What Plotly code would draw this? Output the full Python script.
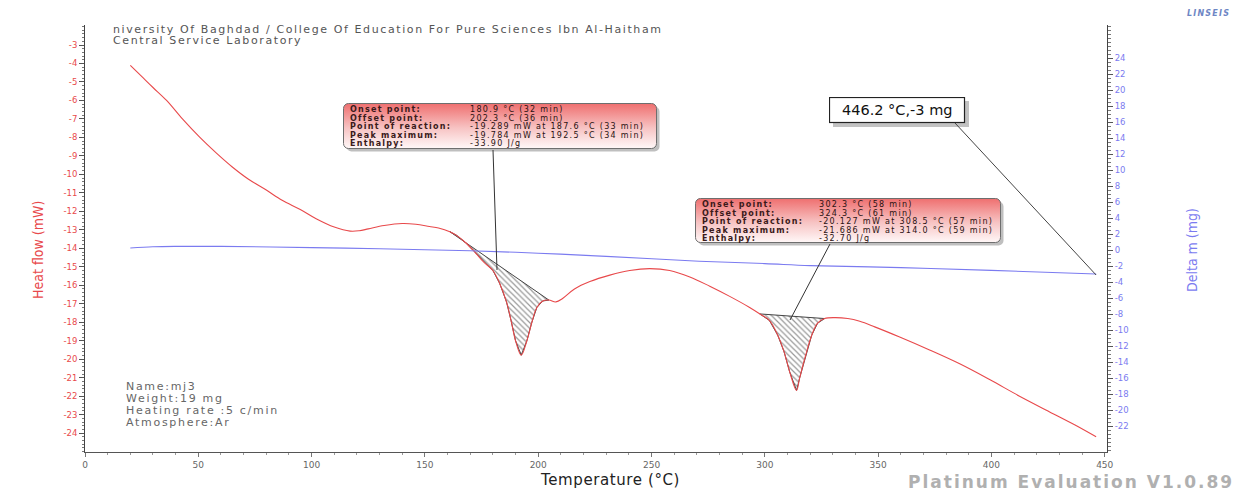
import base64
import plotly.graph_objects as go

# ---- measured data -------------------------------------------------------
temp_hf = [20, 25, 30, 36, 43, 50.7, 58, 65, 72, 80, 87, 95, 102, 110, 117, 121,
           125, 132, 140, 146, 152, 156, 161, 164, 168, 172, 176, 180, 183, 186,
           188, 190, 192.5, 195, 197.2, 199.4, 202, 204.7, 207.8, 210.9, 216,
           222.8, 231.6, 240.4, 249.2, 258, 266.9, 275.7, 284.5, 293.3, 297.8,
           302, 305.7, 308.5, 311, 314, 315.4, 318, 320.7, 323.3, 326.4, 330.8,
           336.6, 341.9, 348.5, 359.5, 372.7, 386, 399.2, 412.4, 425.7, 436.7, 446.2]
heat_flow = [-4.1, -4.7, -5.3, -6.0, -7.0, -8.0, -8.85, -9.6, -10.25, -10.85, -11.4,
             -11.9, -12.4, -12.85, -13.07, -13.05, -12.95, -12.77, -12.66, -12.7,
             -12.82, -12.9, -13.1, -13.3, -13.7, -14.2, -14.75, -15.2, -15.9, -16.9,
             -17.9, -19.0, -19.784, -19.0, -18.0, -17.2, -16.85, -16.8, -16.9, -16.7,
             -16.2, -15.8, -15.45, -15.2, -15.1, -15.2, -15.55, -16.05, -16.6, -17.2,
             -17.55, -17.9, -18.7, -19.6, -20.7, -21.686, -21.0, -19.8, -18.7, -18.05,
             -17.8, -17.75, -17.8, -17.95, -18.25, -18.8, -19.5, -20.25, -21.1, -22.0,
             -22.85, -23.55, -24.2]

temp_dm = [20, 30, 40, 60, 100, 130, 170, 200, 230, 271, 300, 320, 360, 400, 446.2]
delta_m = [0.25, 0.4, 0.45, 0.45, 0.3, 0.15, -0.1, -0.4, -0.8, -1.4, -1.7, -1.95, -2.2, -2.55, -3.0]

# integration limits of the two evaluated peaks (°C)
peak_limits = [(161, 204.7), (297.8, 326.4)]

peak1_lines = [("Onset point:", "180.9 °C (32 min)"),
               ("Offset point:", "202.3 °C (36 min)"),
               ("Point of reaction:", "-19.289 mW at 187.6 °C (33 min)"),
               ("Peak maximum:", "-19.784 mW at 192.5 °C (34 min)"),
               ("Enthalpy:", "-33.90 J/g")]
peak2_lines = [("Onset point:", "302.3 °C (58 min)"),
               ("Offset point:", "324.3 °C (61 min)"),
               ("Point of reaction:", "-20.127 mW at 308.5 °C (57 min)"),
               ("Peak maximum:", "-21.686 mW at 314.0 °C (59 min)"),
               ("Enthalpy:", "-32.70 J/g")]

hf_ticks = list(range(-24, -2))
dm_ticks = list(range(-22, 25, 2))
t_ticks = list(range(0, 451, 50))

header = ["niversity Of Baghdad / College Of Education For Pure Sciences Ibn Al-Haitham",
          "Central Service Laboratory"]
sample_info = ["Name:mj3", "Weight:19 mg", "Heating rate :5 c/min", "Atmosphere:Ar"]
end_label = "446.2 °C,-3 mg"

# ---- layout geometry (pixels) --------------------------------------------
W, H = 1239, 494
L, R, T, B = 85, 132, 25, 42
PW, PH = W - L - R, H - T - B
FONT = "DejaVu Sans, Verdana, sans-serif"
RED = "#e8494b"
BLUE = "#7b7bf0"


def px(x):
    return (x - L) / PW


def py(y):
    return (H - B - y) / PH


def spaced(text, spacing):
    return f'<span style="letter-spacing:{spacing}px">{text}</span>'


def svg_uri(svg):
    return "data:image/svg+xml;base64," + base64.b64encode(svg.encode()).decode()


def callout_svg(w, h):
    return f'''<svg xmlns="http://www.w3.org/2000/svg" width="{w}" height="{h}" viewBox="0 0 {w} {h}">
<defs><linearGradient id="g" x1="0" y1="0" x2="0" y2="1">
<stop offset="0" stop-color="#ef6f6f"/><stop offset="0.55" stop-color="#f7c4c4"/><stop offset="1" stop-color="#fff8f8"/>
</linearGradient></defs>
<rect x="3.5" y="3.5" width="{w-5}" height="{h-5}" rx="5" fill="#8a8a8a" opacity="0.55"/>
<rect x="0.5" y="0.5" width="{w-5}" height="{h-5}" rx="5" fill="url(#g)" stroke="#6e6e6e" stroke-width="1"/>
</svg>'''


def plain_svg(w, h):
    return f'''<svg xmlns="http://www.w3.org/2000/svg" width="{w}" height="{h}" viewBox="0 0 {w} {h}">
<rect x="4" y="4" width="{w-4}" height="{h-4}" fill="#9a9a9a" opacity="0.6"/>
<rect x="0.5" y="0.5" width="{w-5}" height="{h-5}" fill="white" stroke="#222" stroke-width="1.2"/>
</svg>'''


fig = go.Figure()

# hatched peak areas bounded by the straight baseline between the limits
for lo, hi in peak_limits:
    seg = [(t, v) for t, v in zip(temp_hf, heat_flow) if lo <= t <= hi]
    fig.add_trace(go.Scatter(
        x=[p[0] for p in seg] + [seg[0][0]],
        y=[p[1] for p in seg] + [seg[0][1]],
        mode="lines", fill="toself", fillcolor="rgba(0,0,0,0)",
        fillpattern=dict(shape="\\", fgcolor="#333", bgcolor="rgba(255,255,255,0)",
                         size=4, solidity=0.3),
        line=dict(color="#444", width=1), hoverinfo="skip", showlegend=False))

fig.add_trace(go.Scatter(x=temp_hf, y=heat_flow, mode="lines", line=dict(color=RED, width=1.1),
                         line_shape="spline", showlegend=False))
fig.add_trace(go.Scatter(x=temp_dm, y=delta_m, mode="lines", line=dict(color=BLUE, width=1.1),
                         line_shape="spline", yaxis="y2", showlegend=False))

ann = []
images = []
shapes = []

# evaluation callouts
for lines, (x0, y0, w, h), vx, anchor_px in [
        (peak1_lines, (343, 103, 318, 50), 468, ((493, 150), (497, 270))),
        (peak2_lines, (695, 198, 310, 49), 817, ((830, 244), (790, 320)))]:
    images.append(dict(source=svg_uri(callout_svg(w, h)), xref="paper", yref="paper",
                       x=px(x0), y=py(y0), sizex=w / PW, sizey=h / PH,
                       xanchor="left", yanchor="top", sizing="stretch", layer="above"))
    for i, (lab, val) in enumerate(lines):
        yy = y0 + 6.5 + i * 8.6
        ann.append(dict(text=spaced(f"<b>{lab}</b>", 1.25), x=px(x0 + 5), y=py(yy),
                        xref="paper", yref="paper", xanchor="left", yanchor="middle",
                        showarrow=False, font=dict(family=FONT, size=8, color="#3a1a1a")))
        ann.append(dict(text=spaced(val, 1.3), x=px(vx), y=py(yy), xref="paper", yref="paper",
                        xanchor="left", yanchor="middle", showarrow=False,
                        font=dict(family=FONT, size=8, color="#2a1212")))
    (ax, ay), (bx, by) = anchor_px
    shapes.append(dict(type="line", xref="paper", yref="paper", x0=px(ax), y0=py(ay),
                       x1=px(bx), y1=py(by), line=dict(color="#333", width=1)))

# end point label
images.append(dict(source=svg_uri(plain_svg(140, 30)), xref="paper", yref="paper",
                   x=px(829), y=py(97), sizex=140 / PW, sizey=30 / PH,
                   xanchor="left", yanchor="top", sizing="stretch", layer="above"))
ann.append(dict(text=end_label, x=px(897), y=py(110), xref="paper", yref="paper",
                xanchor="center", yanchor="middle", showarrow=False,
                font=dict(family=FONT, size=14.5, color="#111")))
shapes.append(dict(type="line", xref="paper", yref="paper", x0=px(955), y0=py(123),
                   x1=px(temp_dm[-1] * PW / 451 + L), y1=py(275),
                   line=dict(color="#444", width=1)))

# header, sample info, footer, logo
for i, line in enumerate(header):
    ann.append(dict(text=spaced(line, 1.6), x=px(111), y=py(29 + i * 11), xref="paper",
                    yref="paper", xanchor="left", yanchor="middle", showarrow=False,
                    font=dict(family=FONT, size=11, color="#555")))
for i, line in enumerate(sample_info):
    ann.append(dict(text=spaced(line, 1.7), x=px(124), y=py(386 + i * 12), xref="paper",
                    yref="paper", xanchor="left", yanchor="middle", showarrow=False,
                    font=dict(family=FONT, size=11, color="#666")))
ann.append(dict(text=spaced("<b>Platinum Evaluation V1.0.89</b>", 2.0), x=px(1236), y=py(482),
                xref="paper", yref="paper", xanchor="right", yanchor="middle", showarrow=False,
                font=dict(family=FONT, size=17, color="#b0b0b0")))
ann.append(dict(text=spaced("<b><i>LINSEIS</i></b>", 1.2), x=px(1232), y=py(14), xref="paper",
                yref="paper", xanchor="right", yanchor="middle", showarrow=False,
                font=dict(family=FONT, size=8, color="#6d86c4")))

# axis titles
ann.append(dict(text="Heat flow (mW)", x=px(38), y=py(250), xref="paper", yref="paper",
                textangle=-90, xanchor="center", yanchor="middle", showarrow=False,
                font=dict(family="DejaVu Sans Condensed, Liberation Sans Narrow, sans-serif",
                          size=14, color=RED)))
ann.append(dict(text="Delta m (mg)", x=px(1192), y=py(250), xref="paper", yref="paper",
                textangle=-90, xanchor="center", yanchor="middle", showarrow=False,
                font=dict(family="DejaVu Sans Condensed, Liberation Sans Narrow, sans-serif",
                          size=14, color=BLUE)))
ann.append(dict(text=spaced("Temperature (°C)", 0.6), x=px(610), y=py(480), xref="paper",
                yref="paper", xanchor="center", yanchor="middle", showarrow=False,
                font=dict(family=FONT, size=15, color="#222")))

fig.update_layout(
    width=W, height=H, margin=dict(l=L, r=R, t=T, b=B),
    paper_bgcolor="white", plot_bgcolor="white", showlegend=False,
    xaxis=dict(range=[0, 451], tickvals=t_ticks, ticktext=[str(t) for t in t_ticks],
               showgrid=False, zeroline=False, showline=True, linecolor="#555", linewidth=1,
               ticks="outside", ticklen=4, tickcolor="#777",
               minor=dict(ticks="outside", ticklen=2, dtick=10, tickcolor="#999"),
               tickfont=dict(family=FONT, size=9, color="#666")),
    yaxis=dict(range=[-25.02, -1.918], tickvals=hf_ticks, ticktext=[f"-{abs(v)}" for v in hf_ticks],
               showgrid=False, zeroline=False, showline=True, linecolor="#444", linewidth=1,
               ticks="outside", ticklen=5, tickcolor="#555",
               minor=dict(ticks="outside", ticklen=2.5, dtick=0.2, tickcolor="#777"),
               tickfont=dict(family=FONT, size=8.5, color=RED)),
    yaxis2=dict(range=[-25.25, 28.125], overlaying="y", side="right",
                tickvals=dm_ticks, ticktext=[str(v) if v >= 0 else f"-{abs(v)}" for v in dm_ticks],
                showgrid=False, zeroline=False, showline=True, linecolor="#444", linewidth=1,
                ticks="outside", ticklen=5, tickcolor="#555",
                minor=dict(ticks="outside", ticklen=2.5, dtick=0.5, tickcolor="#777"),
                tickfont=dict(family=FONT, size=8.5, color=BLUE)),
    annotations=ann, images=images, shapes=shapes,
)

fig.write_html("out.html")
